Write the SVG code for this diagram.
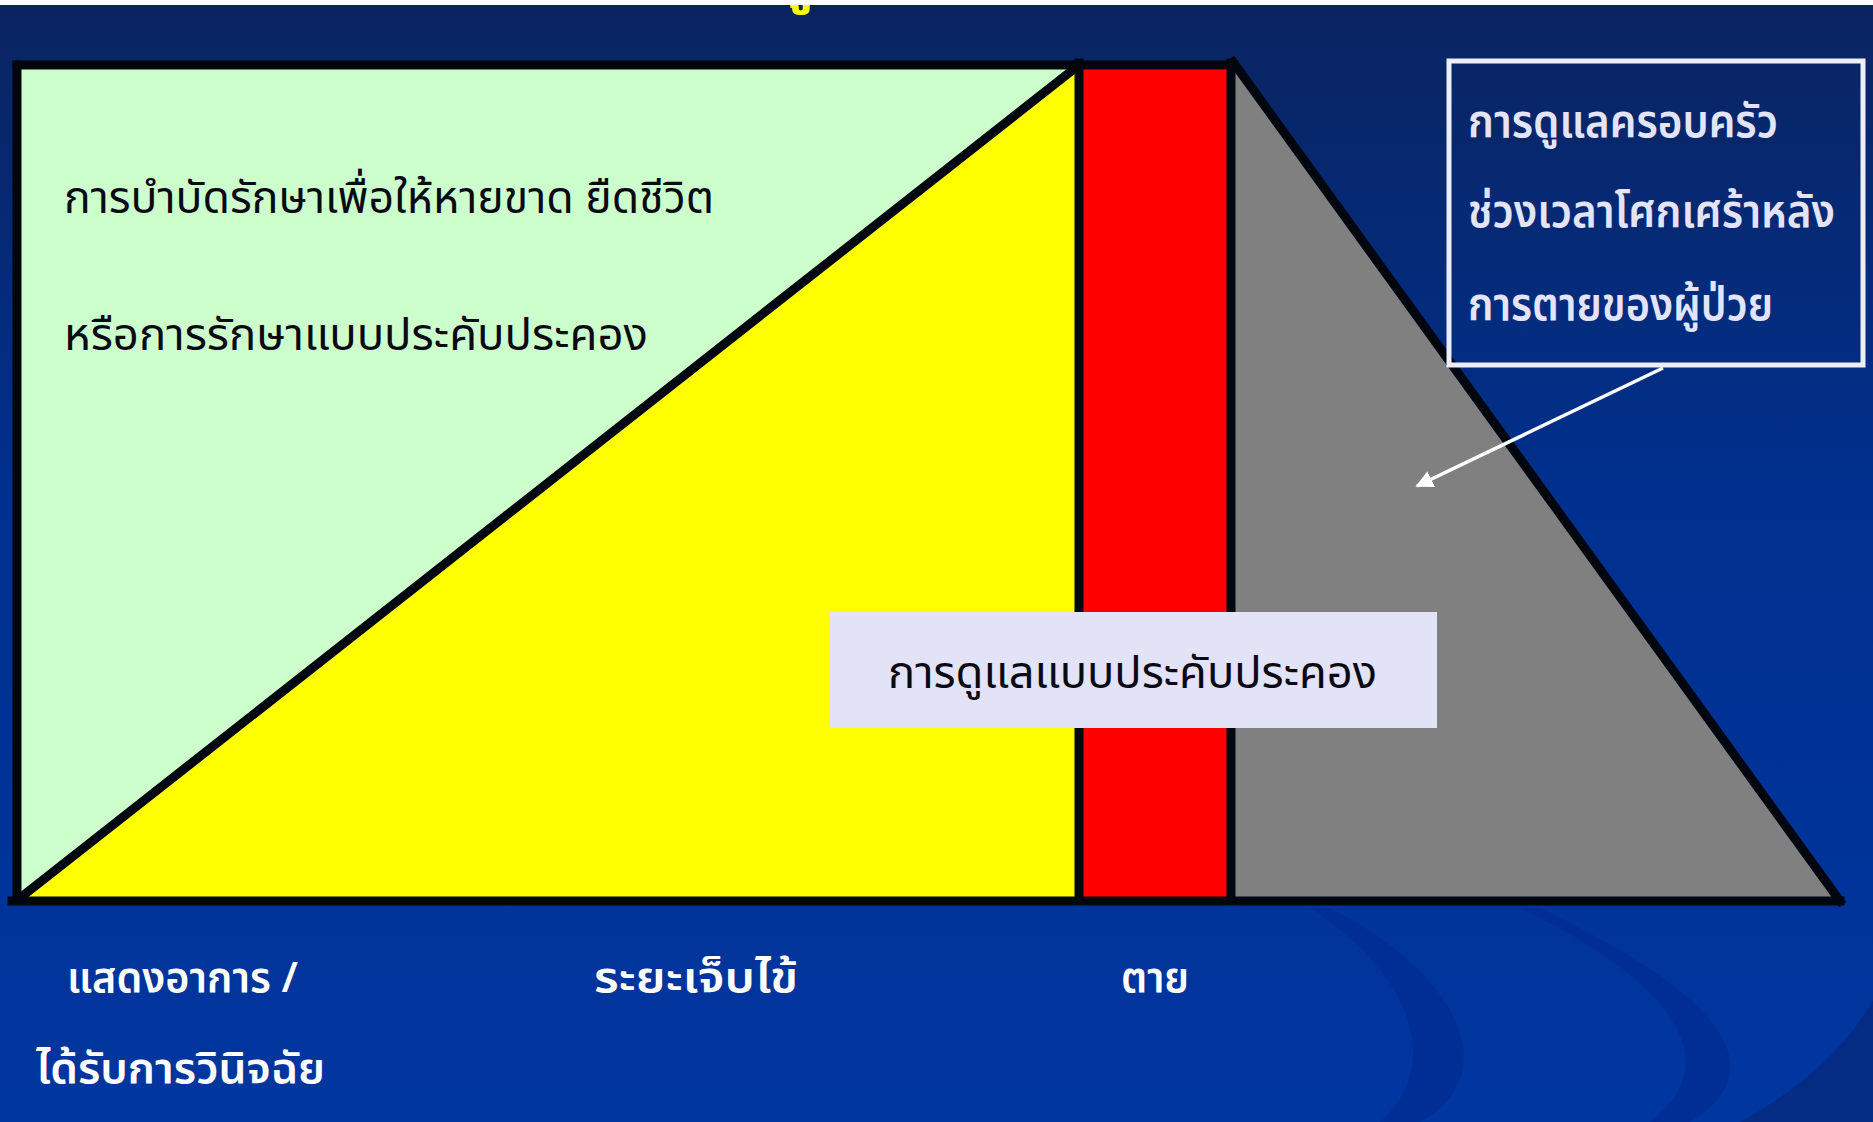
<svg xmlns="http://www.w3.org/2000/svg" width="1873" height="1122" viewBox="0 0 1873 1122">
<defs>
<linearGradient id="bg" x1="0" y1="0" x2="0" y2="1">
<stop offset="0" stop-color="#0A2460"/>
<stop offset="0.45" stop-color="#00308F"/>
<stop offset="1" stop-color="#0036A0"/>
</linearGradient>
<marker id="ah" viewBox="0 0 10 10" refX="9" refY="5" markerWidth="5" markerHeight="5" orient="auto" markerUnits="strokeWidth">
<path d="M0,0 L10,5 L0,10 Z" fill="#FFFFFF"/>
</marker>
<style>
.thai{font-family:"Noto Sans Thai","Noto Sans","DejaVu Sans",sans-serif;}
.dark{fill:#0A0A14;font-size:44px;}
.wht{fill:#FFFFFF;font-size:42px;font-weight:600;}
.lav{fill:#E4E4F8;font-size:46px;font-weight:600;}
.edge{stroke:#01060F;stroke-width:9;fill:none;stroke-linecap:square;}
</style>
</defs>
<rect x="0" y="0" width="1873" height="1122" fill="url(#bg)"/>
<g id="decor">
<path d="M1330,908 C1470,980 1500,1080 1420,1122 L1380,1122 C1440,1070 1420,980 1310,908 Z" fill="#002E94"/>
<path d="M1540,908 C1690,980 1790,1060 1690,1122 L1650,1122 C1730,1060 1670,980 1520,908 Z" fill="#002E94"/>
<path d="M1873,1000 C1840,1060 1780,1100 1740,1122 L1873,1122 Z" fill="#052C85"/>
</g>
<text class="thai" x="778" y="0" font-size="56" font-weight="700" fill="#FFFF00">ดู</text>
<rect x="0" y="0" width="1873" height="5" fill="#FFFFFF"/>
<g id="phase-curative">
<polygon points="17,65 1079,65 17,900" fill="#CCFFCC"/>
</g>
<g id="phase-palliative">
<polygon points="17,900 1079,65 1079,900" fill="#FFFF00"/>
</g>
<g id="phase-death">
<rect x="1079" y="65" width="152" height="835" fill="#FF0000"/>
</g>
<g id="phase-bereavement">
<polygon points="1231,65 1840,900 1231,900" fill="#808080"/>
</g>
<g id="outline">
<line class="edge" x1="17" y1="65" x2="1233" y2="65" stroke-width="10"/>
<line class="edge" x1="17" y1="65" x2="17" y2="900"/>
<line class="edge" x1="12" y1="901" x2="1840" y2="901" stroke-width="10"/>
<line class="edge" x1="20" y1="898" x2="1079" y2="65"/>
<line class="edge" x1="1079" y1="63" x2="1079" y2="900"/>
<line class="edge" x1="1231" y1="63" x2="1231" y2="900"/>
<line class="edge" x1="1233" y1="62" x2="1840" y2="901"/>
</g>
<g id="curative-text">
<text class="thai dark" x="64" y="213" textLength="650" lengthAdjust="spacingAndGlyphs">การบำบัดรักษาเพื่อให้หายขาด ยืดชีวิต</text>
<text class="thai dark" x="64" y="350" textLength="584" lengthAdjust="spacingAndGlyphs">หรือการรักษาแบบประคับประคอง</text>
</g>
<g id="palliative-label">
<rect x="830" y="612" width="607" height="116" fill="#E3E3F8"/>
<text class="thai dark" x="888" y="688" textLength="489" lengthAdjust="spacingAndGlyphs">การดูแลแบบประคับประคอง</text>
</g>
<g id="bereavement-box">
<rect x="1449" y="61" width="414" height="304" fill="none" stroke="#EEEEFA" stroke-width="5"/>
<text class="thai lav" x="1468" y="137" textLength="310" lengthAdjust="spacingAndGlyphs">การดูแลครอบครัว</text>
<text class="thai lav" x="1468" y="227" textLength="367" lengthAdjust="spacingAndGlyphs">ช่วงเวลาโศกเศร้าหลัง</text>
<text class="thai lav" x="1468" y="320" textLength="305" lengthAdjust="spacingAndGlyphs">การตายของผู้ป่วย</text>
</g>
<g id="connectors">
<line x1="1663" y1="368" x2="1417" y2="486" stroke="#FFFFFF" stroke-width="3.5" marker-end="url(#ah)"/>
</g>
<g id="timeline-labels">
<text class="thai wht" x="67" y="992" textLength="231" lengthAdjust="spacingAndGlyphs">แสดงอาการ /</text>
<text class="thai wht" x="594" y="992" textLength="204" lengthAdjust="spacingAndGlyphs">ระยะเจ็บไข้</text>
<text class="thai wht" x="1121" y="992" textLength="68" lengthAdjust="spacingAndGlyphs">ตาย</text>
<text class="thai wht" x="36" y="1083" textLength="289" lengthAdjust="spacingAndGlyphs">ได้รับการวินิจฉัย</text>
</g>
</svg>
